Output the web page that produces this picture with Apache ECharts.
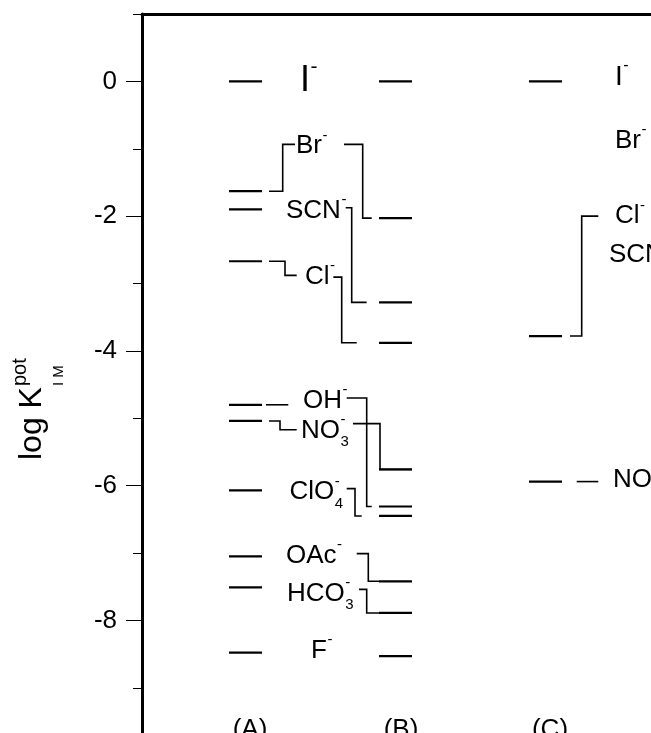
<!DOCTYPE html>
<html><head><meta charset="utf-8">
<script src="https://cdn.jsdelivr.net/npm/echarts@6/dist/echarts.min.js"></script>
<style>html,body{margin:0;padding:0;background:#fff}#c{width:651px;height:733px}</style>
</head><body><div id="c"></div>
<script>
// ---------------- data ----------------
const ionNames   = ['I', 'Br', 'SCN', 'Cl', 'OH', 'NO', 'ClO', 'OAc', 'HCO', 'F'];
const ionSubs    = ['', '', '', '', '', '3', '4', '', '3', ''];
const logK_A     = [0, -1.63, -1.90, -2.67, -4.80, -5.04, -6.07, -7.05, -7.51, -8.48];
const logK_B     = [0, -2.03, -3.28, -3.88, -6.31, -5.76, -6.45, -7.42, -7.89, -8.53];
const ionNamesC  = ['I', 'Cl', 'NO'];
const logK_C     = [0, -3.78, -5.94];
const labelsC    = ['I', 'Br', 'Cl', 'SCN', 'NO'];
const columnLabels = ['(A)', '(B)', '(C)'];
const yMajorTicks = [-8, -6, -4, -2, 0];
const yMinorTicks = [-9, -7, -5, -3, -1, 1];

// ---------------- layout (annotation placement, axis units) ----------------
const FONT = '"Liberation Sans", Arial, Helvetica, sans-serif';
const X0 = 142;                       // x axis: 1 unit = 1 px from the left axis
const GRID_TOP = 14;
const UNIT = 67.375;                  // px per log unit
const Y_MAX = 1;
const Y_MIN = Y_MAX - (733 - GRID_TOP) / UNIT;
const colSpan = { A: [229, 262], B: [379, 412], C: [529, 562] };
// label centre heights (log units) and left x
const labelYAB = [0.0, -0.96, -1.915, -2.895, -4.735, -5.18, -6.095, -7.04, -7.60, -8.45];
const labelXAB = [300, 296, 286, 305, 303, 301, 289.5, 286, 287, 311];
const labelSizeAB = [36, 26, 26, 26, 26, 26, 26, 26, 26, 26];
// left connectors: [xStart, xBend, xEnd, yEnd] (yEnd null => stays at A level)
const leftConn = [null, [269, 282.7, 295, -0.935], null, [269, 285, 296.7, -2.88],
  [266, 288.3, 288.3, null], [269, 280, 296.7, -5.17], null, null, null, null];
// right connectors: [xStart, xBend, xEnd, yStart]
const rightConn = [null, [344, 362.7, 371.7, -0.935], [345.7, 351.7, 366.7, -1.875],
  [333.3, 341.7, 356.7, -2.905], [346.7, 366.7, 371.7, -4.70], [353, 380, 412, -5.08],
  [346.7, 355, 361.7, -6.045], [356.7, 368.3, 379, -7.01], [359, 366.7, 379, -7.54], null];
const labelYC = [0.064, -0.876, -2.0, -2.58, -5.92];
const labelXC = [615, 615, 615, 609, 613];
const labelSizeC = [28, 26, 26, 26, 26];
const connC = [null, [570, 581.7, 598.3, -2.0], [576.7, 598.3, 598.3, null]];
const colLabelX = [250, 401, 550];
const colLabelY = -9.62;

const mctx = document.createElement('canvas').getContext('2d');
function tw(t, s) { mctx.font = s + 'px ' + FONT; return mctx.measureText(t).width; }
function xv(px) { return px - X0; }

function labelEls(api, text, sub, px, yVal, size) {
  const p = api.coord([xv(px), yVal]);
  const els = [{ type: 'text', style: { text: text, x: p[0], y: p[1], font: size + 'px ' + FONT, fill: '#000', align: 'left', verticalAlign: 'middle' } }];
  const w = tw(text, size);
  const ss = Math.round(size * 0.58);
  els.push({ type: 'text', style: { text: '-', x: p[0] + w + 0.5, y: p[1] - size * 0.40, font: ss + 'px ' + FONT, fill: '#000', align: 'left', verticalAlign: 'middle' } });
  if (sub) els.push({ type: 'text', style: { text: sub, x: p[0] + w + 0.5, y: p[1] + size * 0.45, font: ss + 'px ' + FONT, fill: '#000', align: 'left', verticalAlign: 'middle' } });
  return els;
}
function levelEl(api, span, yVal) {
  const a = api.coord([xv(span[0]), yVal]), b = api.coord([xv(span[1]), yVal]);
  return { type: 'line', shape: { x1: a[0], y1: a[1], x2: b[0], y2: b[1] }, style: { stroke: '#000', lineWidth: 2.2 } };
}
function polyEl(api, pts) {
  return { type: 'polyline', shape: { points: pts.map(q => api.coord([xv(q[0]), q[1]])) }, style: { stroke: '#000', lineWidth: 1.6, fill: null } };
}

function renderAB(params, api) {
  const i = api.value(0);
  const ch = [];
  ch.push(levelEl(api, colSpan.A, logK_A[i]));
  ch.push(levelEl(api, colSpan.B, logK_B[i]));
  const L = leftConn[i];
  if (L) {
    const ye = L[3] === null ? logK_A[i] : L[3];
    ch.push(polyEl(api, [[L[0], logK_A[i]], [L[1], logK_A[i]], [L[1], ye], [L[2], ye]]));
  }
  const R = rightConn[i];
  if (R) ch.push(polyEl(api, [[R[0], R[3]], [R[1], R[3]], [R[1], logK_B[i]], [R[2], logK_B[i]]]));
  labelEls(api, ionNames[i], ionSubs[i], labelXAB[i], labelYAB[i], labelSizeAB[i]).forEach(e => ch.push(e));
  return { type: 'group', children: ch };
}
function renderC(params, api) {
  const i = api.value(0);
  const ch = [levelEl(api, colSpan.C, logK_C[i])];
  const L = connC[i];
  if (L) {
    const ye = L[3] === null ? logK_C[i] : L[3];
    ch.push(polyEl(api, [[L[0], logK_C[i]], [L[1], logK_C[i]], [L[1], ye], [L[2], ye]]));
  }
  return { type: 'group', children: ch };
}
function renderLabelsC(params, api) {
  const i = api.value(0);
  return { type: 'group', children: labelEls(api, labelsC[i], '', labelXC[i], labelYC[i], labelSizeC[i]) };
}
function renderColLabels(params, api) {
  const i = api.value(0);
  const p = api.coord([xv(colLabelX[i]), colLabelY]);
  return { type: 'text', style: { text: columnLabels[i], x: p[0], y: p[1], font: '26px ' + FONT, fill: '#000', align: 'center', verticalAlign: 'middle' } };
}

const chart = echarts.init(document.getElementById('c'), null, { renderer: 'canvas' });
const option = {
  animation: false,
  backgroundColor: '#fff',
  grid: { left: X0, top: GRID_TOP, right: 0, bottom: 0 },
  xAxis: { type: 'value', min: 0, max: 651 - X0, position: 'top',
    axisLine: { show: true, onZero: false, lineStyle: { color: '#000', width: 3 } },
    axisTick: { show: false }, axisLabel: { show: false }, splitLine: { show: false } },
  yAxis: [
    { type: 'value', min: Y_MIN, max: Y_MAX,
      axisLine: { show: true, onZero: false, lineStyle: { color: '#000', width: 3 } },
      axisTick: { show: true, length: 16, customValues: yMajorTicks, lineStyle: { color: '#000', width: 1 } },
      axisLabel: { show: true, customValues: yMajorTicks, margin: 25, fontSize: 26, color: '#000', fontFamily: FONT },
      splitLine: { show: false } },
    { type: 'value', min: Y_MIN, max: Y_MAX, position: 'left',
      axisLine: { show: false },
      axisTick: { show: true, length: 9, customValues: yMinorTicks, lineStyle: { color: '#000', width: 1 } },
      axisLabel: { show: false }, splitLine: { show: false } }
  ],
  graphic: [{
    type: 'group', x: 32, y: 460, rotation: Math.PI / 2,
    children: [
      { type: 'text', style: { text: 'log K', x: 0, y: 0, font: '32px ' + FONT, fill: '#000', align: 'left', verticalAlign: 'middle' } },
      { type: 'text', style: { text: 'pot', x: tw('log K', 32) + 1, y: -11.5, font: '20px ' + FONT, fill: '#000', align: 'left', verticalAlign: 'middle' } },
      { type: 'text', style: { text: 'I M', x: tw('log K', 32) + 1, y: 27, font: '15px ' + FONT, fill: '#000', align: 'left', verticalAlign: 'middle' } }
    ]
  }],
  series: [
    { type: 'custom', name: 'AB', xAxisIndex: 0, yAxisIndex: 0, clip: false, data: ionNames.map((_, i) => [i]), renderItem: renderAB },
    { type: 'custom', name: 'C', xAxisIndex: 0, yAxisIndex: 0, clip: false, data: ionNamesC.map((_, i) => [i]), renderItem: renderC },
    { type: 'custom', name: 'Clab', xAxisIndex: 0, yAxisIndex: 0, clip: false, data: labelsC.map((_, i) => [i]), renderItem: renderLabelsC },
    { type: 'custom', name: 'cols', xAxisIndex: 0, yAxisIndex: 0, clip: false, data: columnLabels.map((_, i) => [i]), renderItem: renderColLabels }
  ]
};
chart.setOption(option);
</script></body></html>
